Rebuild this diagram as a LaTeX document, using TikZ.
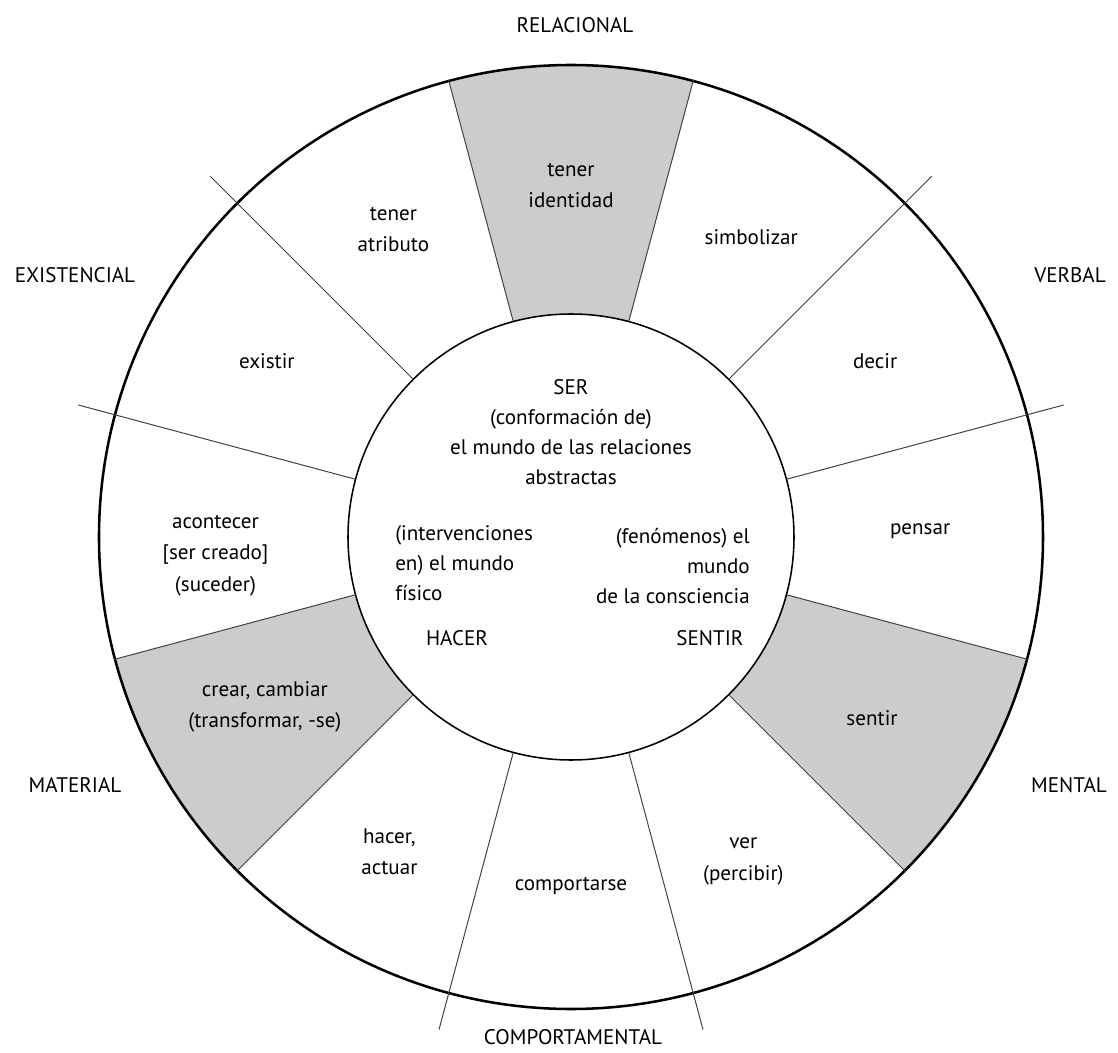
\documentclass[tikz,border=0pt]{standalone}
\usepackage{fontspec}
\setmainfont{PT Sans}
\usepackage{tikz}

\begin{document}
\begin{tikzpicture}[
    rim/.style={draw, circle, line width=1.8pt, minimum size=23.6cm, inner sep=0pt},
    core/.style={draw, circle, line width=1.1pt, minimum size=11.15cm, inner sep=0pt},
    spoke/.style={line width=0.7pt, black!75},
    shade/.style={fill=black!20},
    proc/.style={align=center, inner sep=0pt, font=\fontsize{15}{22.4}\selectfont},
    cat/.style={inner sep=0pt, font=\fontsize{15}{18}\selectfont},
    world/.style={inner sep=0pt, font=\fontsize{15}{21.5}\selectfont}
  ]
    \useasboundingbox (-14.275,-12.875) rectangle (13.675,13.425);

    % shaded sectors
    \fill[shade] (75:11.8) arc[start angle=75, end angle=105, radius=11.8]
      -- (105:5.575) arc[start angle=105, end angle=75, radius=5.575] -- cycle;
    \fill[shade] (195:11.8) arc[start angle=195, end angle=225, radius=11.8]
      -- (225:5.575) arc[start angle=225, end angle=195, radius=5.575] -- cycle;
    \fill[shade] (315:11.8) arc[start angle=315, end angle=345, radius=11.8]
      -- (345:5.575) arc[start angle=345, end angle=315, radius=5.575] -- cycle;

    \node[rim]  (rim)  at (0,0) {};
    \node[core] (core) at (0,0) {};

    % spokes ending on the rim
    \draw[spoke] (core.75)  -- (rim.75);
    \draw[spoke] (core.105) -- (rim.105);
    \draw[spoke] (core.195) -- (rim.195);
    \draw[spoke] (core.225) -- (rim.225);
    \draw[spoke] (core.315) -- (rim.315);
    \draw[spoke] (core.345) -- (rim.345);
    % spokes crossing the rim
    \draw[spoke] (core.15)  -- (15:12.75);
    \draw[spoke] (core.45)  -- (45:12.75);
    \draw[spoke] (core.135) -- (135:12.75);
    \draw[spoke] (core.165) -- (165:12.75);
    \draw[spoke] (core.255) -- (255:12.75);
    \draw[spoke] (core.285) -- (285:12.75);

    % processes
    \node[proc] (ident)  at (90:8.78)  {tener\\identidad};
    \node[proc] (atrib)  at (120:8.88) {tener\\atributo};
    \node[proc] (exist)  at (150:8.78) {existir};
    \node[proc] (acont)  at (183:8.9)  {acontecer\\{[}ser creado{]}\\(suceder)};
    \node[proc] (crear)  at (209:8.75) {crear, cambiar\\(transformar, -se)};
    \node[proc] (hacer)  at (240:9.08) {hacer,\\actuar};
    \node[proc] (comp)   at (270:8.72) {comportarse};
    \node[proc] (ver)    at (298:9.18) {ver\\(percibir)};
    \node[proc] (sent)   at (329:8.78) {sentir};
    \node[proc] (pens)   at (1:8.73)   {pensar};
    \node[proc] (decir)  at (30:8.78)  {decir};
    \node[proc] (simb)   at (59:8.75)  {simbolizar};

    % process types
    \node[cat] (relac)  at (0.1,12.8)     {RELACIONAL};
    \node[cat] (existc) at (-12.4,6.55)   {EXISTENCIAL};
    \node[cat] (verbal) at (12.475,6.55)  {VERBAL};
    \node[cat] (mater)  at (-12.4,-6.2)   {MATERIAL};
    \node[cat] (mental) at (12.45,-6.2)   {MENTAL};
    \node[cat] (comptl) at (0.05,-12.5)   {COMPORTAMENTAL};

    % worlds
    \node[world, align=center] (ser) at (0,2.625)
      {SER\\(conformación de)\\el mundo de las relaciones\\abstractas};
    \node[world, align=left, anchor=west] (fis) at (-4.4,-0.65)
      {(intervenciones\\en) el mundo\\físico};
    \node[world, align=right, anchor=east] (cons) at (4.475,-0.725)
      {(fenómenos) el\\mundo\\de la consciencia};
    \node[world] (hac) at (-2.85,-2.525) {HACER};
    \node[world] (sen) at (3.475,-2.525) {SENTIR};
  \end{tikzpicture}
\end{document}
